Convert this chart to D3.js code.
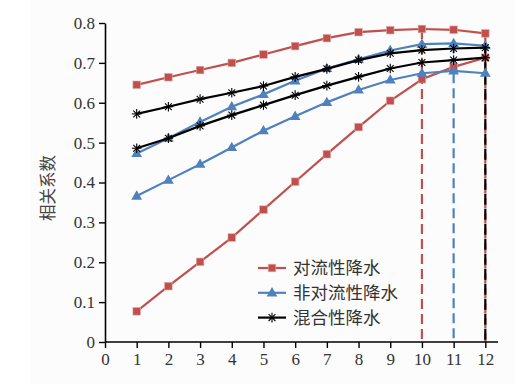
<!DOCTYPE html>
<html>
<head>
<meta charset="utf-8">
<script src="https://cdn.jsdelivr.net/npm/d3@7"></script>
<style>
  body { margin: 0; background: #fff; }
  svg { display: block; }
  .tick text { font-family: "Liberation Serif", "DejaVu Serif", serif; }
</style>
</head>
<body>
<div id="chart"></div>
<script>
// data
var months = [1, 2, 3, 4, 5, 6, 7, 8, 9, 10, 11, 12];
var convUpper = [0.645, 0.664, 0.682, 0.700, 0.721, 0.742, 0.762, 0.777, 0.782, 0.785, 0.783, 0.774];
var convLower = [0.077, 0.140, 0.201, 0.262, 0.332, 0.402, 0.471, 0.539, 0.605, 0.659, 0.690, 0.713];
var nonUpper = [0.473, 0.511, 0.552, 0.590, 0.621, 0.655, 0.686, 0.709, 0.731, 0.747, 0.749, 0.743];
var nonLower = [0.366, 0.406, 0.446, 0.488, 0.530, 0.566, 0.601, 0.632, 0.657, 0.674, 0.680, 0.674];
var mixUpper = [0.572, 0.590, 0.609, 0.625, 0.642, 0.665, 0.685, 0.707, 0.724, 0.732, 0.736, 0.738];
var mixLower = [0.486, 0.511, 0.542, 0.569, 0.594, 0.619, 0.643, 0.665, 0.686, 0.701, 0.707, 0.713];
var xTicks = [0, 1, 2, 3, 4, 5, 6, 7, 8, 9, 10, 11, 12];
var yTicks = [0, 0.1, 0.2, 0.3, 0.4, 0.5, 0.6, 0.7, 0.8];
var legendNames = ["对流性降水", "非对流性降水", "混合性降水"];
// vertical dashed markers: [month, top value, colour key]
var peakLines = [[10, 0.785, "conv"], [11, 0.749, "non"], [12, 0.774, "conv"], [12, 0.738, "mix"]];

var colors = { conv: "#c0504d", non: "#4f81bd", mix: "#000000" };

var svg = d3.select("#chart").append("svg")
    .attr("width", 532)
    .attr("height", 384);

svg.append("rect")
    .attr("x", 30).attr("y", 0)
    .attr("width", 485).attr("height", 384)
    .attr("fill", "#fcfcfc");

var x = d3.scaleLinear().domain([0, 12.4]).range([105, 498]);
var y = d3.scaleLinear().domain([0, 0.8]).range([342, 23]);

var line = d3.line()
    .x(function(d) { return x(d[0]); })
    .y(function(d) { return y(d[1]); });

function zipSeries(vals) {
  return months.map(function(m, i) { return [m, vals[i]]; });
}

// dashed vertical lines
var dashes = { conv: "10,5", non: "10,5", mix: "11,4" };
peakLines.forEach(function(p) {
  svg.append("line")
      .attr("x1", x(p[0])).attr("x2", x(p[0]))
      .attr("y1", y(p[1])).attr("y2", y(0))
      .attr("stroke", colors[p[2]])
      .attr("stroke-width", 2.2)
      .attr("stroke-dasharray", dashes[p[2]])
      .attr("stroke-dashoffset", p[2] == "mix" ? 4 : 0);
});

function drawMarker(g, kind, cx, cy, color) {
  if (kind == "square") {
    g.append("rect")
        .attr("x", cx - 3.8).attr("y", cy - 3.8)
        .attr("width", 7.6).attr("height", 7.6)
        .attr("fill", color)
        .attr("stroke", "#e3a9a7").attr("stroke-width", 0.6);
  } else if (kind == "triangle") {
    g.append("path")
        .attr("d", d3.symbol().type(d3.symbolTriangle).size(50)())
        .attr("transform", "translate(" + cx + "," + (cy + 0.5) + ")")
        .attr("fill", color);
  } else {
    var r = 4.8;
    for (var k = 0; k < 4; k++) {
      var a = k * Math.PI / 4;
      g.append("line")
          .attr("x1", cx - r * Math.cos(a)).attr("y1", cy - r * Math.sin(a))
          .attr("x2", cx + r * Math.cos(a)).attr("y2", cy + r * Math.sin(a))
          .attr("stroke", color).attr("stroke-width", 1.1);
    }
  }
}

var series = [
  { vals: convLower, key: "conv", marker: "square" },
  { vals: convUpper, key: "conv", marker: "square" },
  { vals: nonLower, key: "non", marker: "triangle" },
  { vals: nonUpper, key: "non", marker: "triangle" },
  { vals: mixLower, key: "mix", marker: "star" },
  { vals: mixUpper, key: "mix", marker: "star" }
];

series.forEach(function(s) {
  var g = svg.append("g");
  var data = zipSeries(s.vals);
  g.append("path")
      .datum(data)
      .attr("d", line)
      .attr("fill", "none")
      .attr("stroke", colors[s.key])
      .attr("stroke-width", 2.2);
  data.forEach(function(d) {
    drawMarker(g, s.marker, x(d[0]), y(d[1]), colors[s.key]);
  });
});

// axes
var xAxis = svg.append("g")
    .attr("transform", "translate(0," + y(0) + ")")
    .call(d3.axisBottom(x).tickValues(xTicks).tickSize(6).tickSizeOuter(0).tickPadding(5));
var yAxis = svg.append("g")
    .attr("transform", "translate(" + x(0) + ",0)")
    .call(d3.axisLeft(y).tickValues(yTicks).tickSize(6).tickSizeOuter(0).tickPadding(4)
      .tickFormat(function(d) { return d == 0 ? "0" : d3.format(".1f")(d); }));

[xAxis, yAxis].forEach(function(a) {
  a.attr("font-family", null);
  a.select(".domain").attr("stroke", "#000").attr("stroke-width", 1.6);
  a.selectAll(".tick line").attr("stroke", "#000").attr("stroke-width", 1.4);
  a.selectAll(".tick text")
      .attr("fill", "#333")
      .style("font-size", "17px");
});
xAxis.select(".domain").attr("d", "M" + x(0) + ",0H498");

svg.append("text")
    .attr("text-anchor", "middle")
    .attr("transform", "translate(54," + 188 + ")rotate(-90)")
    .attr("fill", "#444")
    .style("font-family", "'Noto Sans CJK SC', sans-serif")
    .style("font-size", "16.5px")
    .text("相关系数");

// legend
var legendKeys = [["conv", "square"], ["non", "triangle"], ["mix", "star"]];
var legend = svg.append("g");
legendKeys.forEach(function(k, i) {
  var ly = 268 + i * 24.8;
  legend.append("line")
      .attr("x1", 258).attr("x2", 286)
      .attr("y1", ly).attr("y2", ly)
      .attr("stroke", colors[k[0]]).attr("stroke-width", 2.2);
  drawMarker(legend, k[1], 272, ly, colors[k[0]]);
  legend.append("text")
      .attr("x", 293).attr("y", ly)
      .attr("dy", "0.36em")
      .attr("fill", "#333")
      .style("font-family", "'Noto Sans CJK SC', sans-serif")
      .style("font-size", "17.5px")
      .text(legendNames[i]);
});
</script>
</body>
</html>
